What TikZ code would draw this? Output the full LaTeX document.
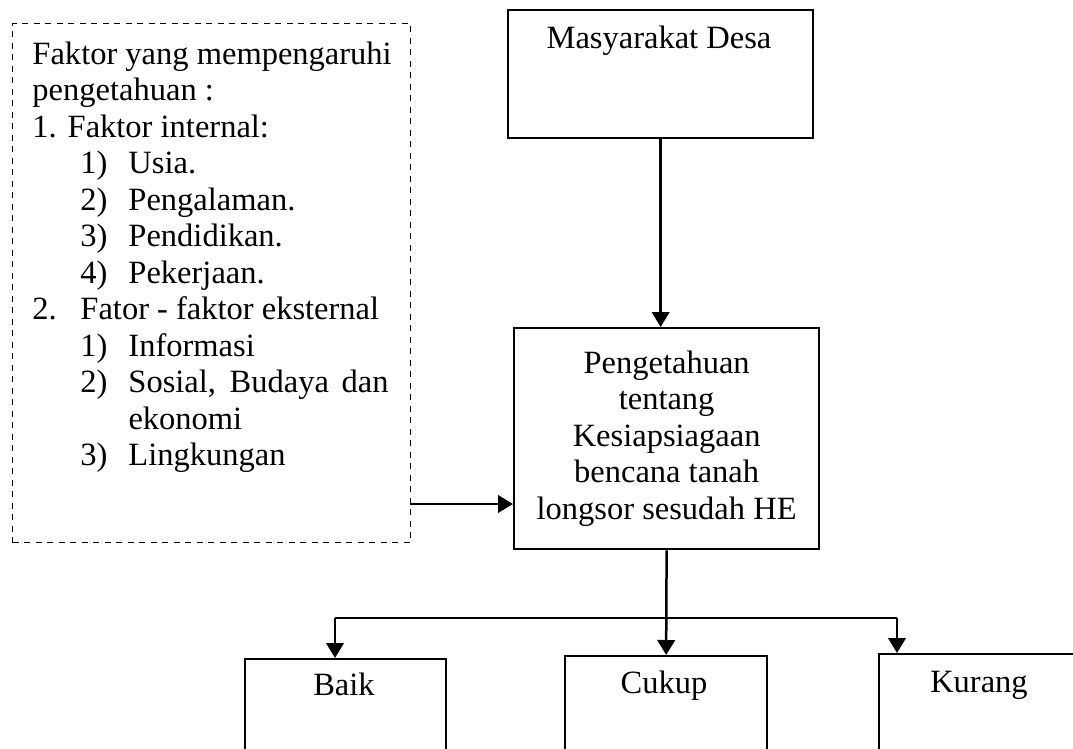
\documentclass[tikz,border=0pt]{standalone}
\usepackage{fontspec}
\setmainfont{Liberation Serif}
\usetikzlibrary{arrows.meta}

\newcommand{\fitem}[2]{\hspace*{19.2pt}\makebox[19.2pt][l]{#1}#2}

\begin{document}
\begin{tikzpicture}[x=0.4pt,y=-0.4pt,
  box/.style={rectangle, draw=black, line width=0.9pt, inner sep=0pt},
  dashbox/.style={rectangle, draw=black, dash pattern=on 2.4pt off 2.2pt, line width=0.5pt, inner sep=0pt},
  txt/.style={font=\fontsize{13}{14.6}\selectfont, inner sep=0pt},
  arr/.style={-{Triangle[length=6pt,width=7pt]}, line width=1pt}]
\useasboundingbox (0,0) rectangle (1073,748);
\clip (0,0) rectangle (1073,748);

\node[dashbox, anchor=north west, minimum width=159.2pt, minimum height=207.6pt](faktor) at (12,23) {};
\node[txt, anchor=north west, align=left](faktortext) at (32,41) {Faktor yang mempengaruhi\\
pengetahuan :\\
1. Faktor internal:\\
\fitem{1)}{Usia.}\\
\fitem{2)}{Pengalaman.}\\
\fitem{3)}{Pendidikan.}\\
\fitem{4)}{Pekerjaan.}\\
\makebox[19.2pt][l]{2.}Fator - faktor eksternal\\
\fitem{1)}{Informasi}\\
\fitem{2)}{\makebox[104pt][s]{Sosial, Budaya dan}}\\
\hspace*{38.4pt}ekonomi\\
\fitem{3)}{Lingkungan}};

\node[box, anchor=north west, minimum width=122pt, minimum height=51.2pt](masyarakat) at (507,9) {};
\node[txt, anchor=base](masyarakattext) at (659,48) {Masyarakat Desa};

\node[box, txt, anchor=north west, align=center, minimum width=122pt, minimum height=88.4pt](pengetahuan) at (513,327) {Pengetahuan\\tentang\\Kesiapsiagaan\\bencana tanah\\longsor sesudah HE};

\node[box, anchor=north west, minimum width=80.4pt, minimum height=52pt](baik) at (244,658) {};
\node[txt, anchor=base](baiktext) at (344,695) {Baik};
\node[box, anchor=north west, minimum width=80.8pt, minimum height=52pt](cukup) at (564,655) {};
\node[txt, anchor=base](cukuptext) at (664,693) {Cukup};
\node[box, anchor=north west, minimum width=84pt, minimum height=52pt](kurang) at (878,653) {};
\node[txt, anchor=base](kurangtext) at (979,692) {Kurang};

\draw[arr] (masyarakat.south)--(masyarakat.south |- pengetahuan.north);

\coordinate (faktorout) at (410,504);
\draw[arr] (faktorout)--(faktorout -| pengetahuan.west);

\draw[arr] (pengetahuan.south)--(cukup.north);

\coordinate (cabangkiri) at (335,618);
\coordinate (cabangkanan) at (897,618);
\draw[line width=0.6pt] (cabangkiri)--(cabangkanan);
\draw[arr] (cabangkiri)--(cabangkiri |- baik.north);
\draw[arr] (cabangkanan)--(cabangkanan |- kurang.north);
\end{tikzpicture}
\end{document}
